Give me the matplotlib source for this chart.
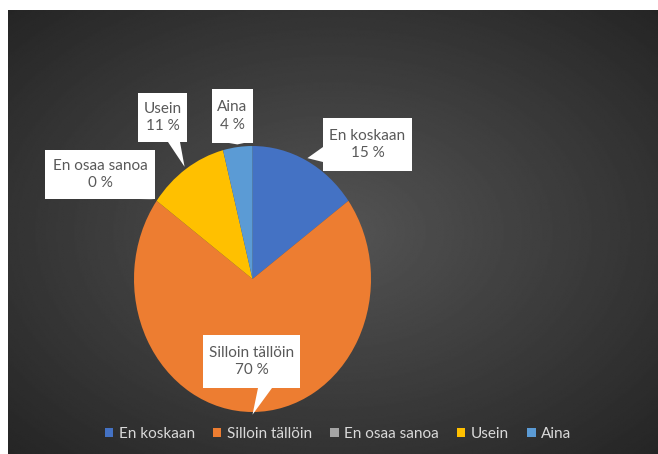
import numpy as np
import matplotlib.pyplot as plt
from matplotlib.patches import Polygon

labels = ['En koskaan', 'Silloin tällöin', 'En osaa sanoa', 'Usein', 'Aina']
shares = [15, 70, 0, 11, 4]
colors = ['#4472C4', '#ED7D31', '#A5A5A5', '#FFC000', '#5B9BD5']

W, H = 658, 454
plt.rcParams['font.family'] = ['Lato', 'DejaVu Sans']

fig = plt.figure(figsize=(W / 100, H / 100), dpi=100, facecolor='white')

# dark chart area with a soft radial gradient
bg = fig.add_axes([8 / W, 0, 650 / W, 444 / H])
yy, xx = np.mgrid[-1:1:300j, -1:1:400j]
r = np.sqrt(xx ** 2 + yy ** 2)
shade = 0.33 - 0.13 * r
bg.imshow(shade, cmap='gray', vmin=0, vmax=1, aspect='auto',
          extent=(0, 1, 0, 1), interpolation='bilinear')
bg.axis('off')

# pie (slightly taller than wide)
ax = fig.add_axes([134 / W, 1 - 412 / H, 237 / W, 266 / H])
wedges, _ = ax.pie(shares, colors=colors, startangle=90, counterclock=False,
                   wedgeprops=dict(linewidth=0))
ax.set_aspect('auto')
ax.set_xlim(-1, 1)
ax.set_ylim(-1, 1)

# callout boxes: (x0, y0, x1, y1) and pointer base, in pixels from top-left
boxes = {
    'En koskaan': ((323, 118, 412, 171), ((323, 147), (323, 162))),
    'Silloin tällöin': ((203, 335, 300, 388), ((258, 388), (272, 388))),
    'En osaa sanoa': ((45, 150, 155, 199), ((139, 199), (151, 199))),
    'Usein': ((138, 93, 187, 142), ((168, 142), (180, 142))),
    'Aina': ((212, 89, 253, 143), ((229, 143), (244, 143))),
}

ov = fig.add_axes([0, 0, 1, 1])
ov.set_xlim(0, W)
ov.set_ylim(H, 0)
ov.axis('off')

cum = 0
for lab, s in zip(labels, shares):
    mid = np.deg2rad(90 - 360 * (cum + s / 2) / sum(shares))
    cum += s
    px, py = ax.transData.transform((1.02 * np.cos(mid), 1.02 * np.sin(mid)))
    tip = (px, H - py)
    (x0, y0, x1, y1), (b1, b2) = boxes[lab]
    ov.add_patch(Polygon([(x0, y0), (x1, y0), (x1, y1), (x0, y1)],
                         closed=True, fc='white', ec='none'))
    ov.add_patch(Polygon([b1, tip, b2], closed=True, fc='white', ec='none'))
    ov.text((x0 + x1) / 2, (y0 + y1) / 2, f'{lab}\n{s} %', ha='center',
            va='center', fontsize=11, color='#595959', linespacing=1.35)

fig.legend(wedges, labels, ncol=5, loc='center',
           bbox_to_anchor=(338 / W, 1 - 434 / H), frameon=False, fontsize=11,
           labelcolor='#d9d9d9', handlelength=0.55, handleheight=0.55,
           handletextpad=0.35, columnspacing=1.2)

fig.savefig('out.png', dpi=100, facecolor='white')
